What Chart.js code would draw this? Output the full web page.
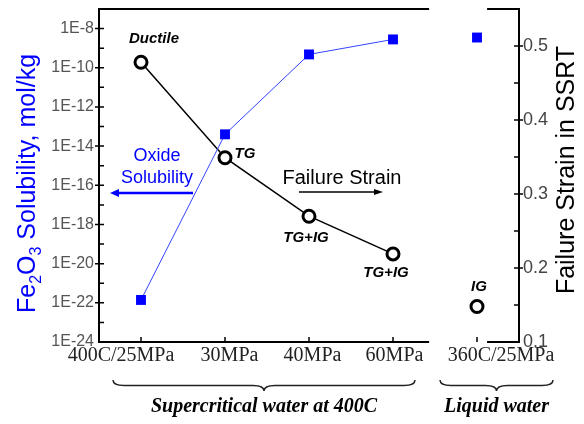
<!DOCTYPE html>
<html>
<head>
<meta charset="utf-8">
<script src="https://cdn.jsdelivr.net/npm/chart.js@4.4.1/dist/chart.umd.min.js"></script>
<style>
html,body{margin:0;padding:0;background:#fff}
#wrap{width:584px;height:424px;position:relative}
</style>
</head>
<body>
<div id="wrap"><canvas id="c"></canvas></div>
<script>
// data
const categories=['400C/25MPa','30MPa','40MPa','60MPa','360C/25MPa'];
const groupOf=[0,0,0,0,1];
const groups=['Supercritical water at 400C','Liquid water'];
const solubility=[1.4e-22,4e-14,4.8e-10,2.8e-9,3.5e-9];      // mol/kg
const failureStrain=[0.478,0.349,0.270,0.219,0.148];
const fractureMode=['Ductile','TG','TG+IG','TG+IG','IG'];
const decadeTicks=[-24,-22,-20,-18,-16,-14,-12,-10,-8];
const logTickLabels=['1E-24','1E-22','1E-20','1E-18','1E-16','1E-14','1E-12','1E-10','1E-8'];
const strainTicks=[0.1,0.2,0.3,0.4,0.5];
const strainTickLabels=['0.1','0.2','0.3','0.4','0.5'];

// layout tweaks (pixels / axis units)
const frameGap=[3.43,4.12];
const labelShift=[-20,4.5,3.5,1.5,24];
const modeOffset=[[13,-23.5],[20,-4],[-3,21.5],[-7,19],[2,-19.5]];
const braceSpan=[[0,3,-28,22],[4,4,-37,76]];

const SANS='"Liberation Sans", Arial, sans-serif';
const SERIF='"Liberation Serif", "Times New Roman", serif';
const BLUE='#0000ff';

const xs=categories.map((_,i)=>i);
const hideCross=c=>groupOf[c.p0DataIndex]!==groupOf[c.p1DataIndex]?'rgba(0,0,0,0)':undefined;

function arrow(ctx,x1,x2,y,w,head,hh){
  const dir=Math.sign(x2-x1);
  ctx.lineWidth=w;
  ctx.beginPath(); ctx.moveTo(x1,y); ctx.lineTo(x2-dir*head*0.6,y); ctx.stroke();
  ctx.beginPath(); ctx.moveTo(x2,y); ctx.lineTo(x2-dir*head,y-hh); ctx.lineTo(x2-dir*head,y+hh); ctx.closePath(); ctx.fill();
}

function brace(ctx,x1,x2,y,h){
  const m=(x1+x2)/2, q=h/2;
  ctx.beginPath();
  ctx.moveTo(x1,y);
  ctx.quadraticCurveTo(x1,y+q,x1+h,y+q);
  ctx.lineTo(m-h,y+q);
  ctx.quadraticCurveTo(m,y+q,m,y+h);
  ctx.quadraticCurveTo(m,y+q,m+h,y+q);
  ctx.lineTo(x2-h,y+q);
  ctx.quadraticCurveTo(x2,y+q,x2,y);
  ctx.stroke();
}

const decor={
  id:'decor',
  beforeDatasetsDraw(ch){
    const {ctx,chartArea:a,scales:{x,yL,yR}}=ch;
    ctx.save();
    ctx.strokeStyle='#000';
    ctx.lineWidth=2;
    const g0=x.getPixelForValue(frameGap[0]), g1=x.getPixelForValue(frameGap[1]);
    ctx.beginPath();
    ctx.moveTo(a.left-1,a.top); ctx.lineTo(g0,a.top); ctx.moveTo(g1,a.top); ctx.lineTo(a.right+1,a.top);
    ctx.moveTo(a.left-1,a.bottom); ctx.lineTo(g0,a.bottom); ctx.moveTo(g1,a.bottom); ctx.lineTo(a.right+1,a.bottom);
    ctx.moveTo(a.left,a.top); ctx.lineTo(a.left,a.bottom);
    ctx.moveTo(a.right,a.top); ctx.lineTo(a.right,a.bottom);
    ctx.stroke();
    ctx.lineWidth=1.5;
    ctx.beginPath();
    for(let e=-23;e<=-8;e++){
      const y=yL.getPixelForValue(Math.pow(10,e));
      ctx.moveTo(a.left-(e%2===0?4:0),y); ctx.lineTo(a.left+5,y);
    }
    for(let k=3;k<=10;k++){
      const y=yR.getPixelForValue(k*0.05);
      ctx.moveTo(a.right-5,y); ctx.lineTo(a.right+(k%2===0?4:0),y);
    }
    xs.forEach(i=>{const px=x.getPixelForValue(i); ctx.moveTo(px,a.bottom); ctx.lineTo(px,a.bottom-5);});
    ctx.stroke();
    ctx.restore();
  },
  afterDatasetsDraw(ch){
    const {ctx,chartArea:a,scales:{x}}=ch;
    ctx.save();
    // fracture mode labels next to the strain points
    const pts=ch.getDatasetMeta(1).data;
    ctx.fillStyle='#000';
    ctx.font='italic bold 15px '+SANS;
    ctx.textAlign='center'; ctx.textBaseline='middle';
    fractureMode.forEach((t,i)=>{
      ctx.fillText(t,pts[i].x+modeOffset[i][0],pts[i].y+modeOffset[i][1]);
    });
    // legend-like notes with arrows
    ctx.fillStyle=BLUE; ctx.strokeStyle=BLUE;
    ctx.font='18px '+SANS;
    ctx.textBaseline='alphabetic';
    ctx.fillText('Oxide',a.left+58,a.top+152);
    ctx.fillText('Solubility',a.left+58,a.top+174);
    arrow(ctx,a.left+94,a.left+11,a.top+184,2.5,9,4);
    ctx.fillStyle='#000'; ctx.strokeStyle='#000';
    ctx.font='20px '+SANS;
    ctx.fillText('Failure Strain',a.left+243,a.top+175);
    arrow(ctx,a.left+200,a.left+284,a.top+183,1.5,9,3);
    // category labels
    ctx.fillStyle='#222';
    ctx.font='20px '+SERIF;
    categories.forEach((c,i)=>{
      ctx.fillText(c,x.getPixelForValue(i)+labelShift[i],a.bottom+19);
    });
    // group braces and captions
    ctx.strokeStyle='#222'; ctx.lineWidth=1.5;
    ctx.fillStyle='#000';
    ctx.font='italic bold 20px '+SERIF;
    braceSpan.forEach((b,gi)=>{
      const x1=x.getPixelForValue(b[0])+b[2], x2=x.getPixelForValue(b[1])+b[3];
      brace(ctx,x1,x2,a.bottom+38,11);
      ctx.fillText(groups[gi],(x1+x2)/2,a.bottom+70);
    });
    // left axis title with subscripts
    const parts=[['Fe',0],['2',1],['O',0],['3',1],[' Solubility, mol/kg',0]];
    const big='25px '+SANS, small='16px '+SANS;
    let total=0;
    parts.forEach(p=>{ctx.font=p[1]?small:big; total+=ctx.measureText(p[0]).width;});
    ctx.translate(35,(a.top+a.bottom)/2+8);
    ctx.rotate(-Math.PI/2);
    ctx.fillStyle=BLUE; ctx.textAlign='left';
    let cx=-total/2;
    parts.forEach(p=>{
      ctx.font=p[1]?small:big;
      ctx.fillText(p[0],cx,p[1]?6:0);
      cx+=ctx.measureText(p[0]).width;
    });
    ctx.setTransform(1,0,0,1,0,0);
    // right axis title
    ctx.translate(574,170);
    ctx.rotate(-Math.PI/2);
    ctx.fillStyle='#000'; ctx.textAlign='center';
    ctx.font='25px '+SANS;
    ctx.fillText('Failure Strain in SSRT',0,0);
    ctx.restore();
  }
};

new Chart(document.getElementById('c'),{
  type:'line',
  data:{
    datasets:[
      {
        label:'Oxide Solubility',
        yAxisID:'yL',
        data:xs.map(i=>({x:i,y:solubility[i]})),
        borderColor:'#3344ff',
        borderWidth:1,
        pointStyle:'rect',
        pointRadius:7,
        pointBorderWidth:0,
        pointBackgroundColor:BLUE,
        segment:{borderColor:hideCross}
      },
      {
        label:'Failure Strain',
        yAxisID:'yR',
        data:xs.map(i=>({x:i,y:failureStrain[i]})),
        borderColor:'#000',
        borderWidth:1.5,
        pointRadius:6,
        pointBorderWidth:3,
        pointBorderColor:'#000',
        pointBackgroundColor:'#fff',
        segment:{borderColor:hideCross}
      }
    ]
  },
  options:{
    responsive:true,
    maintainAspectRatio:false,
    animation:false,
    events:[],
    layout:{padding:{left:0,right:0,top:8,bottom:0}},
    plugins:{legend:{display:false},tooltip:{enabled:false}},
    scales:{
      x:{
        type:'linear',min:-0.5,max:4.5,
        ticks:{display:false},
        grid:{display:false,drawTicks:false},
        border:{display:false},
        afterFit:s=>{s.height=82;s.paddingLeft=0;s.paddingRight=0;}
      },
      yL:{
        type:'logarithmic',position:'left',min:1e-24,max:1e-7,
        afterBuildTicks:s=>{s.ticks=decadeTicks.map(e=>({value:Math.pow(10,e)}));},
        ticks:{
          autoSkip:false,padding:5,color:'#555',
          font:{family:SANS,size:16},
          callback:(v,i)=>logTickLabels[i]
        },
        grid:{display:false,drawTicks:false},
        border:{display:false},
        afterFit:s=>{s.width=99;s.paddingTop=0;s.paddingBottom=0;}
      },
      yR:{
        type:'linear',position:'right',min:0.1,max:0.55,
        afterBuildTicks:s=>{s.ticks=strainTicks.map(v=>({value:v}));},
        ticks:{
          autoSkip:false,padding:4,color:'#444',
          font:{family:SANS,size:18},
          callback:(v,i)=>strainTickLabels[i]
        },
        grid:{display:false,drawTicks:false},
        border:{display:false},
        afterFit:s=>{s.width=65;s.paddingTop=0;s.paddingBottom=0;}
      }
    }
  },
  plugins:[decor]
});
</script>
</body>
</html>
